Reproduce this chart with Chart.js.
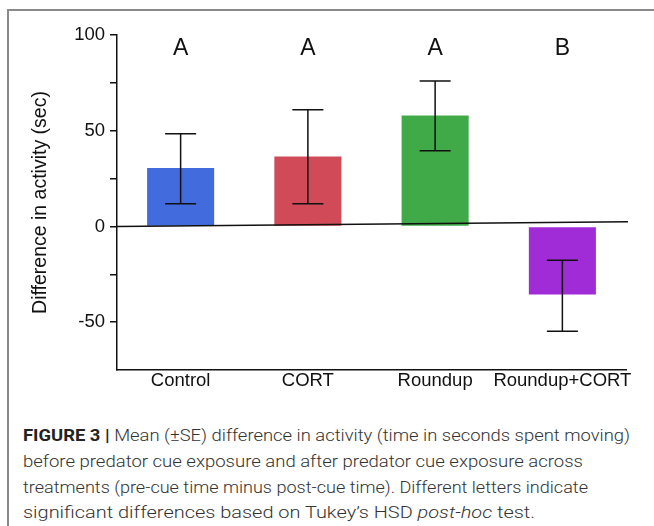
<!DOCTYPE html>
<html>
<head>
<meta charset="utf-8">
<script src="https://cdn.jsdelivr.net/npm/chart.js@4.4.1/dist/chart.umd.min.js"></script>
<style>
  html, body { margin: 0; padding: 0; background: #fff; }
  #wrap { position: relative; width: 654px; height: 526px; overflow: hidden; }
  #frame { position: absolute; left: 7px; top: 9px; width: 700px; height: 600px;
           border-left: 2px solid #8a8a8a; border-top: 2px solid #8a8a8a; }
  #chart { position: absolute; left: 0; top: 0; }
  .line { position: absolute; left: 23px; white-space: nowrap; transform-origin: 0 0;
          font-family: Roboto, "Liberation Sans", Arial, sans-serif; font-weight: 300;
          font-size: 17px; line-height: 20px; color: #333; }
  .line b { color: #222; font-weight: 700; }
</style>
</head>
<body>
<div id="wrap">
  <div id="frame"></div>
  <canvas id="chart" width="654" height="400"></canvas>
  <div class="line" style="top:425px" data-w="607"><b>FIGURE 3 |</b> Mean (±SE) difference in activity (time in seconds spent moving)</div>
  <div class="line" style="top:451px" data-w="560">before predator cue exposure and after predator cue exposure across</div>
  <div class="line" style="top:477px" data-w="565">treatments (pre-cue time minus post-cue time). Different letters indicate</div>
  <div class="line" style="top:502px" data-w="512">significant differences based on Tukey’s HSD <i>post-hoc</i> test.</div>
</div>
<script>
// data
const treatments = ['Control', 'CORT', 'Roundup', 'Roundup+CORT'];
const meanDiff = [30.5, 36.5, 57.9, -35.6];
const seLow = [11.8, 11.8, 39.5, -54.8];
const seHigh = [48.4, 60.9, 76, -17.7];
const tukeyLetters = ['A', 'A', 'A', 'B'];
const letterLevel = 93;
const barColors = ['#426cdd', '#d04a58', '#40aa48', '#a02cd8'];
const yTicks = [-50, 0, 50, 100];
const zeroLine = [0, 2.4]; // the drawn baseline rises a little to the right

const FONT = '"Liberation Sans", Arial, Helvetica, sans-serif';

const extras = {
  id: 'extras',
  afterDatasetsDraw(chart) {
    const ctx = chart.ctx;
    const x = chart.scales.x, y = chart.scales.y;
    const area = chart.chartArea;
    ctx.save();
    ctx.strokeStyle = '#111';
    ctx.lineWidth = 1.5;

    // zero line
    ctx.beginPath();
    ctx.moveTo(area.left, y.getPixelForValue(zeroLine[0]));
    ctx.lineTo(area.right + 2, y.getPixelForValue(zeroLine[1]));
    ctx.stroke();

    // error bars
    const cap = 15.5;
    treatments.forEach((t, i) => {
      const cx = x.getPixelForValue(i);
      const y1 = y.getPixelForValue(seLow[i]);
      const y2 = y.getPixelForValue(seHigh[i]);
      ctx.beginPath();
      ctx.moveTo(cx, y1); ctx.lineTo(cx, y2);
      ctx.moveTo(cx - cap, y1); ctx.lineTo(cx + cap, y1);
      ctx.moveTo(cx - cap, y2); ctx.lineTo(cx + cap, y2);
      ctx.stroke();
    });

    // significance letters
    ctx.fillStyle = '#111';
    ctx.font = '23px ' + FONT;
    ctx.textAlign = 'center';
    ctx.textBaseline = 'middle';
    tukeyLetters.forEach((l, i) => {
      ctx.fillText(l, x.getPixelForValue(i), y.getPixelForValue(letterLevel));
    });
    ctx.restore();
  }
};

new Chart(document.getElementById('chart'), {
  type: 'bar',
  data: {
    labels: treatments,
    datasets: [{
      data: meanDiff,
      backgroundColor: barColors,
      borderWidth: 0,
      categoryPercentage: 1,
      barPercentage: 0.527
    }]
  },
  options: {
    responsive: false,
    animation: false,
    devicePixelRatio: 1,
    layout: { padding: { left: 0, right: 28, top: 35, bottom: 0 } },
    plugins: { legend: { display: false }, tooltip: { enabled: false } },
    scales: {
      x: {
        afterFit(s) { s.height = 30; },
        grid: { display: false, drawTicks: false },
        border: { display: true, color: '#111', width: 1.5 },
        ticks: { color: '#111', padding: 0, maxRotation: 0, autoSkip: false,
                 font: { family: FONT, size: 18.5 } }
      },
      y: {
        min: -75,
        max: 100,
        afterFit(s) { s.width = 117; },
        afterBuildTicks(s) {
          s.ticks = [-75, -50, -25, 0, 25, 50, 75, 100].map(v => ({ value: v }));
        },
        grid: {
          drawOnChartArea: false,
          tickLength: 7,
          lineWidth: 1.5,
          tickColor: c => (c.tick && c.tick.value === -75) ? 'rgba(0,0,0,0)' : '#111'
        },
        border: { display: true, color: '#111', width: 1.5 },
        ticks: {
          color: '#111',
          padding: 5,
          autoSkip: false,
          font: { family: FONT, size: 18.5 },
          callback: v => yTicks.includes(v) ? String(v) : ''
        },
        title: {
          display: true,
          text: 'Difference in activity (sec)',
          color: '#111',
          padding: { top: 29, bottom: 0 },
          font: { family: FONT, size: 19.5 }
        }
      }
    }
  },
  plugins: [extras]
});

// fit caption lines to the widths of the printed figure
document.querySelectorAll('.line').forEach(el => {
  const w = el.getBoundingClientRect().width;
  const target = +el.dataset.w;
  el.style.transform = 'scaleX(' + (target / w) + ')';
});
</script>
</body>
</html>
